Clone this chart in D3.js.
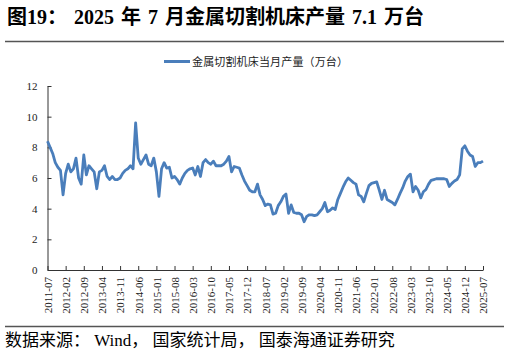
<!DOCTYPE html>
<html lang="zh">
<head>
<meta charset="UTF-8">
<script src="https://d3js.org/d3.v7.min.js"></script>
<title>金属切割机床产量</title>
<style>
    body { margin: 0; background: #fff; }
    svg { display: block; font-family: 'Liberation Serif', 'Noto Sans CJK SC', serif; }
    .title { font-size: 20px; font-weight: bold; fill: #000; word-spacing: 2px; }
    .legend { font-size: 11px; fill: #222; }
    .source { font-size: 17px; fill: #000; }
    .axis text { font-size: 11px; fill: #222; font-family: 'Liberation Serif', serif; }
    .axis path, .axis line { stroke: #333; }
</style>
</head>
<body>
<svg width="510" height="353"></svg>
<script>
    const width = 510, height = 353;

    // 2011-07 起的当月产量（万台）
    const startMonth = "2011-07";
    const output = [
        8.4, 8.0, 7.6, 7.0, 6.7, 6.5, 4.9, 6.3, 6.9, 6.4, 6.6, 7.3,
        6.0, 5.6, 7.5, 6.2, 6.8, 6.6, 6.4, 5.3, 6.4, 6.5, 6.8, 6.1,
        5.9, 6.1, 5.9, 5.9, 6.0, 6.3, 6.5, 6.6, 6.8, 6.6, 9.6, 7.3,
        6.9, 7.2, 7.5, 6.9, 6.8, 7.3, 6.4, 4.8, 6.6, 7.0, 6.65, 6.7,
        6.0, 6.1, 5.9, 5.6, 6.0, 6.3, 6.5, 6.6, 6.65, 6.2, 6.75, 6.1,
        7.0, 7.2, 7.0, 6.9, 7.1, 6.8, 6.8, 6.8, 6.9, 7.1, 7.4, 6.4,
        6.75, 6.7, 6.65, 6.2, 5.8, 5.5, 5.2, 5.1, 5.1, 5.6, 4.9, 4.6,
        4.2, 4.3, 4.25, 3.65, 3.7, 4.2, 4.45, 4.8, 4.95, 3.7, 4.25, 3.75,
        3.7, 3.7, 3.6, 3.15, 3.5, 3.6, 3.6, 3.55, 3.6, 3.8, 4.0, 4.4,
        3.8, 3.9, 4.05, 3.95, 4.6, 5.0, 5.4, 5.75, 6.0, 5.85, 5.7, 5.6,
        4.9, 4.8, 4.45, 5.0, 5.5, 5.65, 5.7, 5.75, 5.2, 4.6, 5.2, 4.6,
        4.5, 4.4, 4.25, 4.6, 5.0, 5.35, 5.8, 6.1, 6.25, 5.1, 5.45, 5.2,
        4.7, 5.1, 5.25, 5.6, 5.85, 5.9, 5.95, 5.95, 5.95, 5.95, 5.9, 5.45,
        5.65, 5.8, 5.9, 6.2, 7.9, 8.1, 7.75, 7.5, 7.4, 6.75, 7.0, 7.0,
        7.1
    ];
    const tickLabels = [
        "2011-07", "2012-02", "2012-09", "2013-04", "2013-11", "2014-06",
        "2015-01", "2015-08", "2016-03", "2016-10", "2017-05", "2017-12",
        "2018-07", "2019-02", "2019-09", "2020-04", "2020-11", "2021-06",
        "2022-01", "2022-08", "2023-03", "2023-10", "2024-05", "2024-12",
        "2025-07"
    ];
    const yTicks = [0, 2, 4, 6, 8, 10, 12];

    const fmt = d3.utcFormat("%Y-%m");
    const start = d3.utcParse("%Y-%m")(startMonth);
    const months = output.map((d, i) => fmt(d3.utcMonth.offset(start, i)));

    const svg = d3.select("svg");

    const x = d3.scaleLinear().domain([0, months.length - 1]).range([47.5, 483]);
    const y = d3.scaleLinear().domain([0, 12]).range([270, 86]);

    // 标题与分隔线
    svg.append("text").attr("class", "title")
        .attr("x", 7).attr("y", 24)
        .text("图19： 2025 年 7 月金属切割机床产量 7.1 万台");
    svg.append("line").attr("x1", 5).attr("x2", 504).attr("y1", 41.5).attr("y2", 41.5)
        .attr("stroke", "#555").attr("stroke-width", 1.5);
    svg.append("line").attr("x1", 5).attr("x2", 504).attr("y1", 326.5).attr("y2", 326.5)
        .attr("stroke", "#555").attr("stroke-width", 1.5);

    // 图例
    svg.append("line").attr("x1", 164).attr("x2", 190).attr("y1", 61.5).attr("y2", 61.5)
        .attr("stroke", "#4a7ebb").attr("stroke-width", 3);
    svg.append("text").attr("class", "legend")
        .attr("x", 192).attr("y", 65.5)
        .attr("textLength", 156).attr("lengthAdjust", "spacing")
        .text("金属切割机床当月产量（万台）");

    // 坐标轴
    const yAxis = d3.axisLeft(y).tickValues(yTicks).tickSizeInner(-4).tickSizeOuter(0).tickPadding(10);
    svg.append("g").attr("class", "axis").attr("transform", "translate(47.5,0)").call(yAxis);

    const xAxis = d3.axisBottom(x)
        .tickValues(tickLabels.map(l => months.indexOf(l)))
        .tickFormat(i => months[i])
        .tickSizeInner(-4).tickSizeOuter(0);
    const gx = svg.append("g").attr("class", "axis").attr("transform", "translate(0,270)").call(xAxis);
    gx.selectAll("text")
        .attr("transform", "rotate(-90)")
        .attr("text-anchor", "end")
        .attr("x", -7).attr("y", 0).attr("dy", "0.35em");

    // 折线
    const line = d3.line().x((d, i) => x(i)).y(d => y(d));
    svg.append("path").datum(output)
        .attr("fill", "none")
        .attr("stroke", "#4a7ebb")
        .attr("stroke-width", 2.8)
        .attr("stroke-linejoin", "round")
        .attr("d", line);

    // 来源
    svg.append("text").attr("class", "source")
        .attr("x", 5).attr("y", 346)
        .text("数据来源： Wind， 国家统计局， 国泰海通证券研究");
</script>
</body>
</html>
